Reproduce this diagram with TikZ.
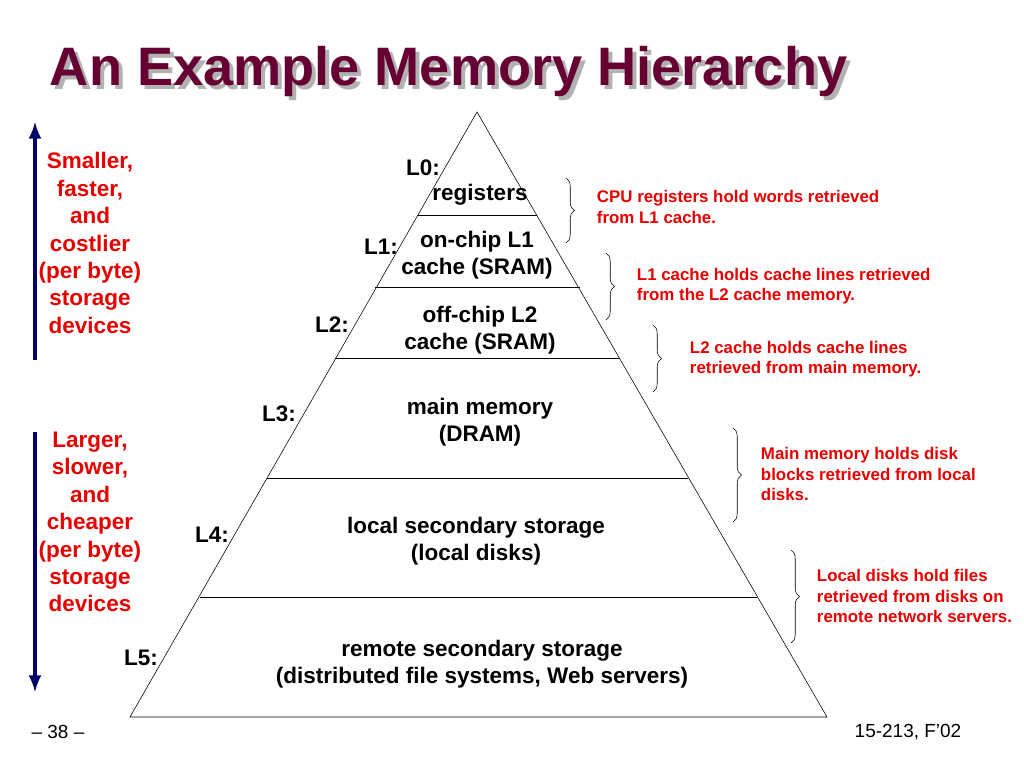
\documentclass[tikz,border=0pt]{standalone}
\usepackage{fontspec}
\setmainfont{Liberation Sans}
\usetikzlibrary{decorations.pathreplacing}
\definecolor{titlered}{RGB}{102,0,51}
\definecolor{navy}{RGB}{0,0,102}
\definecolor{notered}{RGB}{230,0,0}
\tikzset{
  level/.style={font=\fontsize{16}{19}\selectfont\bfseries, align=center},
  lab/.style={font=\fontsize{16}{19}\selectfont\bfseries},
  side/.style={font=\fontsize{16}{19.5}\selectfont\bfseries, text=notered, align=center},
  note/.style={font=\fontsize{12}{14.5}\selectfont\bfseries, text=notered, align=left, anchor=west},
  brace/.style={decorate, decoration={brace, amplitude=6pt}, thin},
}
\begin{document}
\begin{tikzpicture}[x=0.025cm, y=-0.025cm]
  \useasboundingbox (0,0) rectangle (1024,768);

  % Title with shadow
  \node[anchor=west, text=gray!60, font=\fontsize{38.5}{44}\selectfont\bfseries] at (49,76) {An Example Memory Hierarchy};
  \node[anchor=west, text=titlered, font=\fontsize{38.5}{44}\selectfont\bfseries] (title) at (45,72) {An Example Memory Hierarchy};

  % Pyramid
  \coordinate (apex) at (477,112);
  \coordinate (bl) at (130,717);
  \coordinate (br) at (827,717);
  \draw (apex) -- (bl) -- (br) -- cycle;
  \foreach \y/\xa/\xb in {215/418/537, 287/375/580, 358/335/620, 478/267/688, 597/200/757}
    \draw (\xa,\y) -- (\xb,\y);

  % Level texts
  \node[level] (r0) at (480,195) {registers};
  \node[level] (r1) at (477,255) {on-chip L1\\cache (SRAM)};
  \node[level] (r2) at (480,330) {off-chip L2\\cache (SRAM)};
  \node[level] (r3) at (480,422) {main memory\\(DRAM)};
  \node[level] (r4) at (476,541) {local secondary storage\\(local disks)};
  \node[level] (r5) at (482,664) {remote secondary storage\\(distributed file systems, Web servers)};

  % Level labels
  \node[lab] (l0) at (423,168) {L0:};
  \node[lab] (l1) at (381,247) {L1:};
  \node[lab] (l2) at (332,325) {L2:};
  \node[lab] (l3) at (279,414) {L3:};
  \node[lab] (l4) at (212,535) {L4:};
  \node[lab] (l5) at (141,658) {L5:};

  % Side arrows
  \draw[navy, line width=3pt, -latex] (35,360) -- (35,122);
  \draw[navy, line width=3pt, -latex] (35,432) -- (35,692);
  \node[side] (top) at (90,243) {Smaller,\\faster,\\and\\costlier\\(per byte)\\storage\\devices};
  \node[side] (bot) at (90,522) {Larger,\\slower,\\and\\cheaper\\(per byte)\\storage\\devices};

  % Braces and notes
  \draw[brace] (566,178) -- (566,243);
  \node[note] (n0) at (592,207) {CPU registers hold words retrieved\\from L1 cache.};
  \draw[brace] (606,253) -- (606,320);
  \node[note] (n1) at (632,286) {L1 cache holds cache lines retrieved\\from the L2 cache memory.};
  \draw[brace] (653,325) -- (653,392);
  \node[note] (n2) at (685,359) {L2 cache holds cache lines\\retrieved from main memory.};
  \draw[brace] (733,428) -- (733,522);
  \node[note] (n3) at (756,474) {Main memory holds disk\\blocks retrieved from local\\disks.};
  \draw[brace] (791,550) -- (791,643);
  \node[note] (n4) at (812,596) {Local disks hold files\\retrieved from disks on\\remote network servers.};

  % Footer
  \node[font=\fontsize{13.5}{16}\selectfont] (page) at (58,732) {-- 38 --};
  \node[font=\fontsize{13.5}{16}\selectfont] (course) at (908,732) {15-213, F’02};
\end{tikzpicture}
\end{document}
